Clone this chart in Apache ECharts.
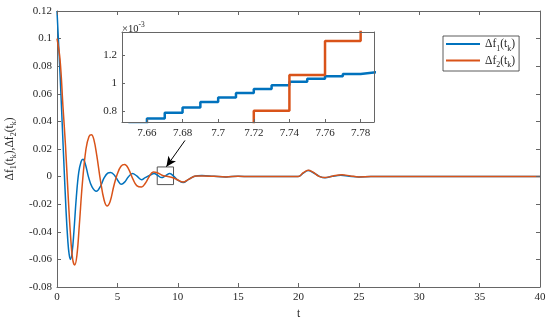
<!DOCTYPE html>
<html>
<head>
<meta charset="utf-8">
<script src="https://cdn.jsdelivr.net/npm/echarts@6/dist/echarts.min.js"></script>
<style>html,body{margin:0;padding:0;background:#fff}#c{width:550px;height:322px}</style>
</head>
<body>
<div id="c"></div>
<script>
// ---- main plot data ----
const t1 = [0,0.25,0.5,0.75,0.9,1.0,1.11,1.25,1.4,1.6,1.8,2.0,2.15,2.35,2.6,2.9,3.26,3.6,3.9,4.2,4.45,4.8,5.05,5.33,5.6,5.9,6.25,6.6,7.0,7.3,7.7,8.04,8.35,8.65,9.0,9.34,9.7,10.0,10.44,10.9,11.4,12,13,14,15,16,18,19.97,20.4,20.8,21.2,21.7,22.2,22.8,23.5,24.2,25,26,30,35,40];
const v1 = [0.12,0.075,0.024,-0.025,-0.047,-0.056,-0.060,-0.055,-0.040,-0.015,0.003,0.011,0.0125,0.009,0.0,-0.0075,-0.0107,-0.007,-0.001,0.0025,0.003,0.0005,-0.003,-0.0056,-0.004,-0.0003,0.0022,0.0005,-0.0022,-0.0008,0.001,0.0022,0.0008,-0.0007,0.0007,0.0022,0.0,-0.0025,-0.0043,-0.002,0.0003,0.0008,0.0002,-0.0002,0.0003,0,0,0,0.0025,0.0044,0.003,0.0003,-0.0009,0.0002,0.001,0.0003,-0.0002,0,0,0,0];
const t2 = [0,0.25,0.5,0.7,0.9,1.1,1.3,1.47,1.65,1.85,2.1,2.4,2.65,2.85,3.05,3.3,3.6,3.9,4.14,4.4,4.7,5.0,5.3,5.6,5.9,6.3,6.6,7.0,7.3,7.6,7.96,8.3,8.7,9.1,9.6,10.0,10.44,10.9,11.5,12.2,13,14,15,16,18,19.97,20.4,20.8,21.2,21.7,22.2,22.8,23.6,24.3,25,26,30,35,40];
const v2 = [0.10,0.085,0.05,0.023,-0.01,-0.04,-0.06,-0.064,-0.057,-0.035,-0.005,0.020,0.029,0.0304,0.027,0.015,-0.003,-0.017,-0.0213,-0.018,-0.007,0.002,0.0075,0.0087,0.006,-0.002,-0.0065,-0.0075,-0.005,-0.0006,0.0033,0.0028,0.001,0.0002,-0.0008,-0.0025,-0.0039,-0.002,0.0004,0.0005,0.0002,-0.0002,0.0002,0,0,0,0.0028,0.0046,0.0032,0.0002,-0.0007,0.0003,0.0013,0.0005,-0.0002,0,0,0,0];
const xTicks = [0,5,10,15,20,25,30,35,40];
const yTicks = [-0.08,-0.06,-0.04,-0.02,0,0.02,0.04,0.06,0.08,0.1,0.12];

// ---- inset data (values x 1e-3) ----
const ti1 = [7.64,7.65,7.66,7.67,7.68,7.69,7.70,7.71,7.72,7.73,7.74,7.75,7.76,7.77,7.78,7.79];
const vi1 = [0.68,0.705,0.745,0.786,0.824,0.863,0.896,0.927,0.956,0.983,1.008,1.03,1.047,1.064,1.078,1.09];
const ti2 = [7.68,7.70,7.72,7.74,7.76,7.78];
const vi2 = [0.35,0.55,0.80,1.057,1.30,1.55];
const insetXTicks = [7.66,7.68,7.7,7.72,7.74,7.76,7.78];
const insetYTicks = [0.8,1,1.2];

// annotation (data coords)
const zoomBox = [[8.3,-0.0058],[9.65,0.007]];
const arrowFrom = [10.6,0.0262];
const arrowTo = [9.06,0.0072];

const zip = (a,b) => a.map((x,i)=>[x,b[i]]);
const BLUE = '#0072BD', ORANGE = '#D95319';
const FONT = 'Liberation Serif';
const AX = '#666', TXT = '#262626';

const sub = {fontFamily: FONT, fontSize: 8, color: TXT, verticalAlign: 'bottom', lineHeight: 8};
const nrm = {fontFamily: FONT, fontSize: 11.5, color: TXT, verticalAlign: 'middle', lineHeight: 17};
const lbl = i => '{n|Δf}{s|' + i + '}{n|(t}{s|k}{n|)}';

const chart = echarts.init(document.getElementById('c'), null, {renderer: 'canvas'});
const lineOnly = (extra) => Object.assign({
  axisLine: {show: true, onZero: false, lineStyle: {color: AX, width: 1}},
  axisLabel: {show: false}, splitLine: {show: false}, z: 10
}, extra);

chart.setOption({
  animation: false,
  backgroundColor: '#fff',
  grid: [
    {left: 57, top: 11, right: 10, bottom: 35, outerBoundsMode: 'none', containLabel: false},
    {left: 122, top: 32, width: 252, height: 90, outerBoundsMode: 'none', containLabel: false}
  ],
  legend: {
    data: ['Δf1', 'Δf2'],
    orient: 'vertical', left: 443, top: 36,
    padding: [2, 4, 2, 3], itemGap: 2,
    itemWidth: 34, itemHeight: 2, icon: 'rect',
    borderColor: '#333', borderWidth: 0.8, backgroundColor: '#fff',
    formatter: n => lbl(n.slice(2)),
    textStyle: {rich: {n: nrm, s: sub}, fontSize: 11.5, fontFamily: FONT}
  },
  xAxis: [
    {type: 'value', gridIndex: 0, min: 0, max: 40, interval: 5,
     name: 't', nameLocation: 'middle', nameGap: 17,
     nameTextStyle: {fontFamily: FONT, fontSize: 11.5, color: TXT},
     axisLine: {show: true, onZero: false, lineStyle: {color: AX}},
     axisTick: {inside: true, length: 4, lineStyle: {color: AX}},
     axisLabel: {fontFamily: FONT, fontSize: 11, color: TXT, margin: 5},
     splitLine: {show: false}},
    lineOnly({type: 'value', gridIndex: 0, min: 0, max: 40, interval: 5, position: 'top',
     axisTick: {show: true, inside: true, length: 4, lineStyle: {color: AX}}}),
    {type: 'value', gridIndex: 1, min: 7.646, max: 7.7875, position: 'bottom', z: 10,
     axisLine: {show: true, onZero: false, lineStyle: {color: AX}},
     axisTick: {inside: true, length: 3, lineStyle: {color: AX}, customValues: insetXTicks},
     axisLabel: {fontFamily: FONT, fontSize: 11, color: TXT, margin: 6, customValues: insetXTicks},
     splitLine: {show: false}},
    lineOnly({type: 'value', gridIndex: 1, min: 7.646, max: 7.7875, position: 'top', axisTick: {show: false}})
  ],
  yAxis: [
    {type: 'value', gridIndex: 0, min: -0.08, max: 0.12, interval: 0.02,
     name: lbl(1) + '{n|,}' + lbl(2), nameLocation: 'middle', nameGap: 33, nameRotate: 90,
     nameTextStyle: {rich: {n: nrm, s: sub}},
     axisLine: {show: true, onZero: false, lineStyle: {color: AX}},
     axisTick: {inside: true, length: 4, lineStyle: {color: AX}},
     axisLabel: {fontFamily: FONT, fontSize: 11, color: TXT, margin: 5},
     splitLine: {show: false}},
    lineOnly({type: 'value', gridIndex: 0, min: -0.08, max: 0.12, interval: 0.02, position: 'right',
     axisTick: {show: true, inside: true, length: 4, lineStyle: {color: AX}}}),
    {type: 'value', gridIndex: 1, min: 0.72, max: 1.365, position: 'left', z: 10,
     name: '{a|×10}{b|-3}', nameLocation: 'end', nameGap: -3,
     nameTextStyle: {align: 'left', rich: {
       a: {fontFamily: FONT, fontSize: 10.5, color: TXT, verticalAlign: 'bottom', lineHeight: 14},
       b: {fontFamily: FONT, fontSize: 7.5, color: TXT, verticalAlign: 'top', lineHeight: 8}}},
     axisLine: {show: true, onZero: false, lineStyle: {color: AX}},
     axisTick: {inside: true, length: 3, lineStyle: {color: AX}, customValues: insetYTicks},
     axisLabel: {fontFamily: FONT, fontSize: 11, color: TXT, margin: 5, customValues: insetYTicks},
     splitLine: {show: false}},
    lineOnly({type: 'value', gridIndex: 1, min: 0.72, max: 1.365, position: 'right', axisTick: {show: false}})
  ],
  series: [
    {name: 'Δf1', type: 'line', xAxisIndex: 0, yAxisIndex: 0, data: zip(t1, v1),
     smooth: 0.4, showSymbol: false, lineStyle: {color: BLUE, width: 1.5}, itemStyle: {color: BLUE}, z: 2},
    {name: 'Δf2', type: 'line', xAxisIndex: 0, yAxisIndex: 0, data: zip(t2, v2),
     smooth: 0.4, showSymbol: false, lineStyle: {color: ORANGE, width: 1.5}, itemStyle: {color: ORANGE}, z: 3},
    {name: 'annot', type: 'line', xAxisIndex: 0, yAxisIndex: 0, data: [], z: 4,
     markArea: {silent: true, itemStyle: {color: 'rgba(0,0,0,0)', borderColor: '#555', borderWidth: 1},
       data: [[{coord: zoomBox[0]}, {coord: zoomBox[1]}]]},
     markLine: {silent: true, symbol: ['none', 'arrow'], symbolSize: [7, 10],
       lineStyle: {color: '#000', width: 1, type: 'solid'}, label: {show: false},
       data: [[{coord: arrowFrom}, {coord: arrowTo}]]}},
    {name: 'i1', type: 'line', xAxisIndex: 2, yAxisIndex: 2, data: zip(ti1, vi1), step: 'end',
     showSymbol: false, lineStyle: {color: BLUE, width: 2.5}, z: 6},
    {name: 'i2', type: 'line', xAxisIndex: 2, yAxisIndex: 2, data: zip(ti2, vi2), step: 'end',
     showSymbol: false, lineStyle: {color: ORANGE, width: 2.5}, z: 7}
  ]
});
</script>
</body>
</html>
